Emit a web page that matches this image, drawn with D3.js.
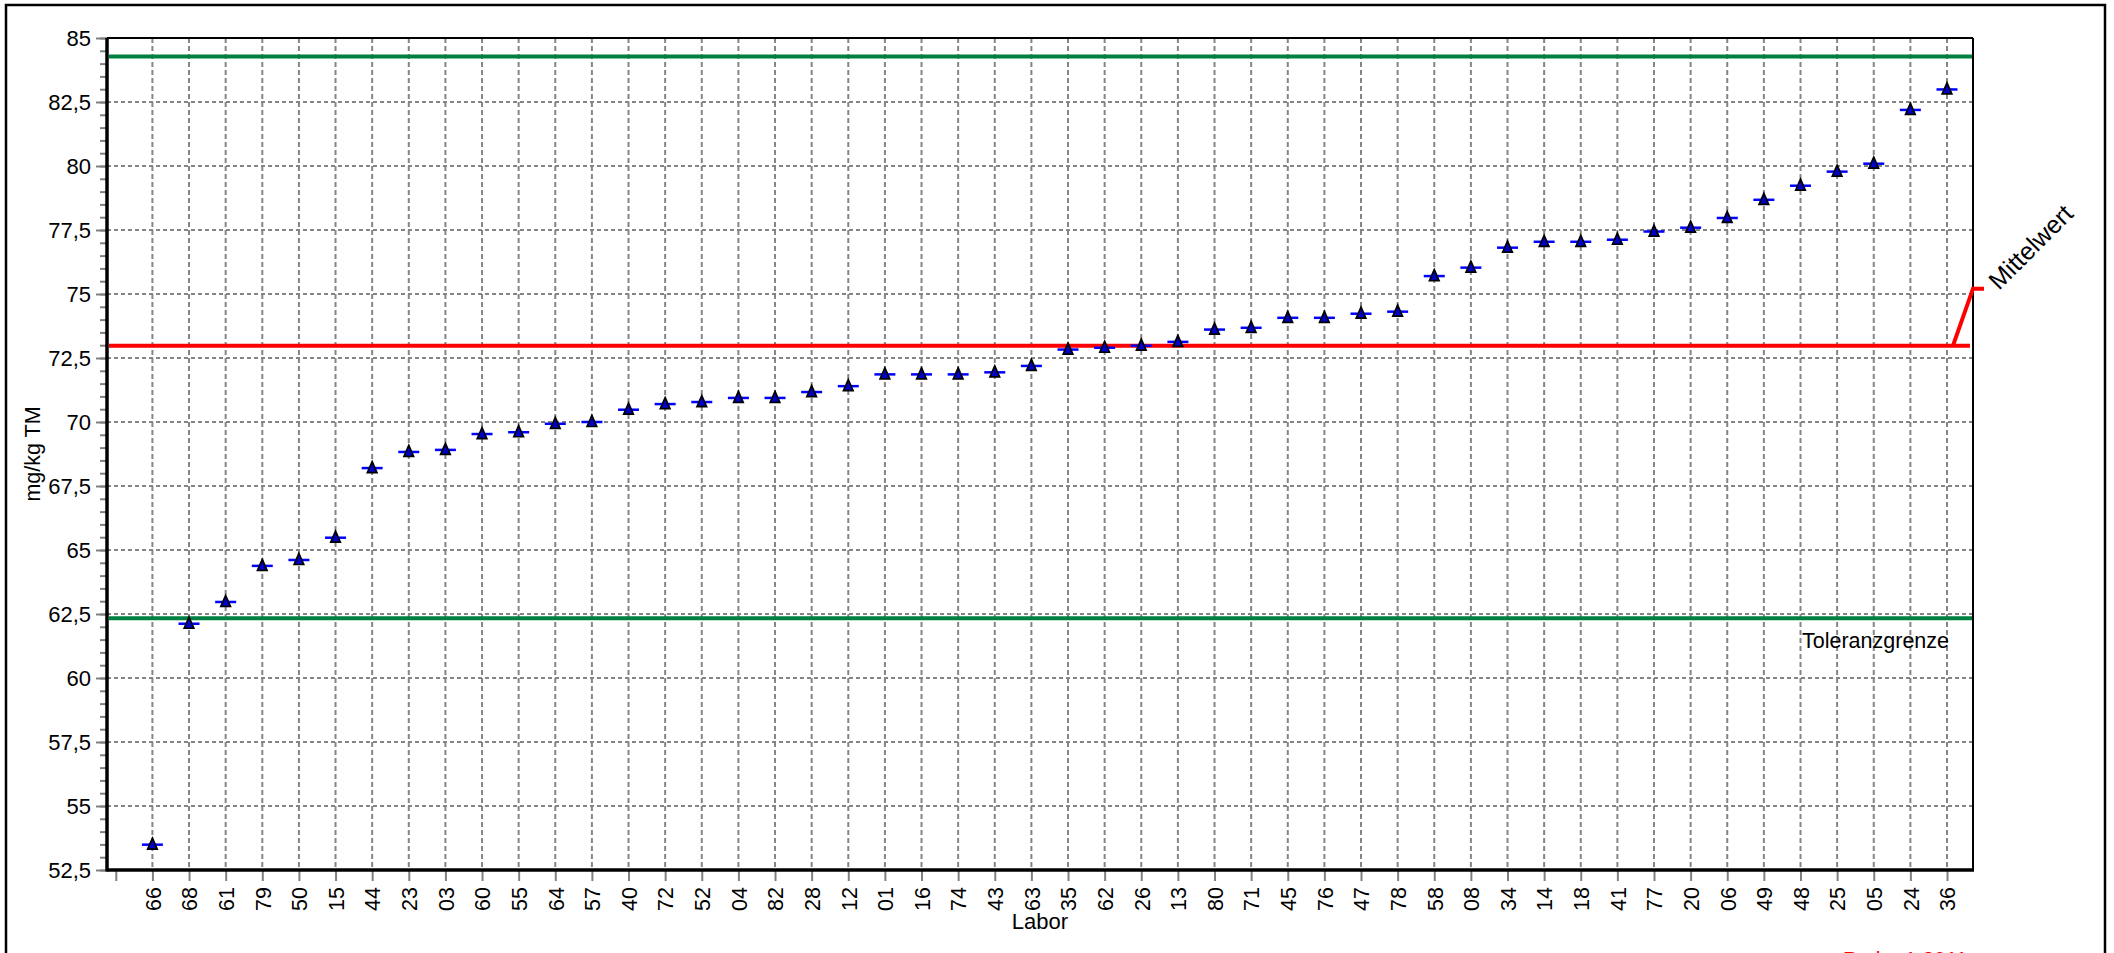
<!DOCTYPE html>
<html>
<head>
<meta charset="utf-8">
<script src="https://cdn.jsdelivr.net/npm/d3@7"></script>
<style>
  html, body { margin: 0; padding: 0; background: #fff; }
  svg { display: block; }
  text { font-family: "Liberation Sans", Arial, sans-serif; }
</style>
</head>
<body>
<svg id="chart" width="2114" height="953"></svg>
<script>
// Labor codes, sorted by result
var labs = ["66","68","61","79","50","15","44","23","03","60",
            "55","64","57","40","72","52","04","82","28","12",
            "01","16","74","43","63","35","62","26","13","80",
            "71","45","76","47","78","58","08","34","14","18",
            "41","77","20","06","49","48","25","05","24","36"];

// measured values in mg/kg TM
var vals = [53.49, 62.12, 62.97, 64.38, 64.61, 65.48, 68.2, 68.83, 68.91, 69.53,
            69.6, 69.93, 70.0, 70.48, 70.7, 70.78, 70.94, 70.94, 71.17, 71.4,
            71.86, 71.86, 71.86, 71.94, 72.19, 72.83, 72.9, 72.98, 73.13, 73.61,
            73.68, 74.07, 74.07, 74.23, 74.31, 75.7, 76.03, 76.81, 77.04, 77.04,
            77.12, 77.44, 77.59, 77.97, 78.68, 79.23, 79.78, 80.09, 82.19, 82.99];

var mittelwert = 72.98;
var toleranz = [62.33, 84.28];

var yMajor = d3.range(52.5, 85.01, 2.5);
var yMinor = d3.range(52.5, 85.01, 0.5);

var svg = d3.select("#chart");

// plot box (named so they don't clash with window.top)
var pL = 107, pR = 1973, pT = 38, pB = 870;

var x = d3.scaleLinear().domain([-0.24, 50.71]).range([pL, pR]);
var y = d3.scaleLinear().domain([52.5, 85]).range([pB, pT]);

var de = d3.formatLocale({decimal: ",", thousands: ".", grouping: [3], currency: ["", " €"]});
var fmt = de.format("~f");

// outer frame
svg.append("rect")
  .attr("x", 6).attr("y", 5).attr("width", 2099).attr("height", 1000)
  .attr("fill", "none").attr("stroke", "#000").attr("stroke-width", 2.5);

// grid
var grid = svg.append("g");
grid.selectAll("line.h").data(yMajor.slice(1, -1)).enter().append("line")
  .attr("x1", pL).attr("x2", pR)
  .attr("y1", function(d) { return y(d); }).attr("y2", function(d) { return y(d); })
  .attr("stroke", "#858585").attr("stroke-width", 2).attr("stroke-dasharray", "4,3");
grid.selectAll("line.v").data(d3.range(1, labs.length + 1)).enter().append("line")
  .attr("y1", pT).attr("y2", pB)
  .attr("x1", function(d) { return x(d); }).attr("x2", function(d) { return x(d); })
  .attr("stroke", "#858585").attr("stroke-width", 2).attr("stroke-dasharray", "5,3");

// y axis, minor + major
var yAxisMinor = d3.axisLeft(y).tickValues(yMinor).tickSize(7).tickFormat("");
var yAxis = d3.axisLeft(y).tickValues(yMajor).tickSize(11).tickPadding(5).tickFormat(fmt);

var gy1 = svg.append("g").attr("transform", "translate(" + pL + ",0)").call(yAxisMinor);
var gy = svg.append("g").attr("transform", "translate(" + pL + ",0)").call(yAxis);
[gy1, gy].forEach(function(g) {
  g.select(".domain").remove();
  g.selectAll(".tick line").attr("stroke", "#808080").attr("stroke-width", 2);
});
gy.selectAll(".tick text").attr("font-size", 22).attr("fill", "#000");

// x axis
var xAxis = d3.axisBottom(x)
  .tickValues(d3.range(0, labs.length + 1))
  .tickSize(11)
  .tickFormat(function(i) { return i === 0 ? "" : labs[i - 1]; });
var gx = svg.append("g").attr("transform", "translate(0," + pB + ")").call(xAxis);
gx.select(".domain").remove();
gx.selectAll(".tick line").attr("stroke", "#808080").attr("stroke-width", 2);
gx.selectAll(".tick text")
  .attr("font-size", 21.5).attr("fill", "#000")
  .attr("text-anchor", "end")
  .attr("transform", "rotate(-90)")
  .attr("x", -17).attr("y", 0).attr("dy", "0.36em");

// plot frame
svg.append("line").attr("x1", pL).attr("x2", pR).attr("y1", pT).attr("y2", pT)
  .attr("stroke", "#000").attr("stroke-width", 2);
svg.append("line").attr("x1", pR).attr("x2", pR).attr("y1", pT).attr("y2", pB)
  .attr("stroke", "#000").attr("stroke-width", 2);
svg.append("line").attr("x1", pL).attr("x2", pL).attr("y1", pT).attr("y2", pB + 1.5)
  .attr("stroke", "#000").attr("stroke-width", 3.5);
svg.append("line").attr("x1", pL).attr("x2", pR + 1).attr("y1", pB).attr("y2", pB)
  .attr("stroke", "#000").attr("stroke-width", 3.5);

// tolerance lines
svg.selectAll("line.tol").data(toleranz).enter().append("line")
  .attr("x1", pL + 2).attr("x2", pR - 1)
  .attr("y1", function(d) { return y(d); }).attr("y2", function(d) { return y(d); })
  .attr("stroke", "#008040").attr("stroke-width", 4);

svg.append("text")
  .attr("x", 1802).attr("y", 648)
  .attr("font-size", 21.5).attr("fill", "#000")
  .text("Toleranzgrenze");

// mean line with callout
var ym = y(mittelwert);
svg.append("path")
  .attr("d", "M" + (pL + 2) + "," + ym + "H" + (pR - 3) +
             "M" + (pR - 20) + "," + ym + "L" + pR + "," + (ym - 57) + "H" + (pR + 11))
  .attr("fill", "none").attr("stroke", "#ff0000").attr("stroke-width", 4);

svg.append("text")
  .attr("transform", "translate(1999,291) rotate(-45)")
  .attr("font-size", 25).attr("fill", "#000")
  .text("Mittelwert");

// data points: blue bar + triangle
var pts = svg.append("g").selectAll("g").data(vals).enter().append("g")
  .attr("transform", function(d, i) { return "translate(" + x(i + 1) + "," + y(d) + ")"; });
pts.append("line")
  .attr("x1", -10.5).attr("x2", 10.5).attr("y1", 0).attr("y2", 0)
  .attr("stroke", "#0000ff").attr("stroke-width", 2.5);
pts.append("path")
  .attr("d", "M0,-6.5L4.8,4.5L-4.8,4.5Z")
  .attr("fill", "#0000c8").attr("stroke", "#000").attr("stroke-width", 1.7);

// axis titles
svg.append("text")
  .attr("transform", "translate(40," + ((pT + pB) / 2) + ") rotate(-90)")
  .attr("text-anchor", "middle")
  .attr("font-size", 21.5)
  .text("mg/kg TM");

svg.append("text")
  .attr("x", (pL + pR) / 2).attr("y", 929)
  .attr("text-anchor", "middle")
  .attr("font-size", 22)
  .text("Labor");

// footer (cut off at bottom edge)
svg.append("text")
  .attr("x", 1843).attr("y", 966)
  .attr("font-size", 21).attr("fill", "#ff0000")
  .text("Probe 1 2011");
</script>
</body>
</html>
